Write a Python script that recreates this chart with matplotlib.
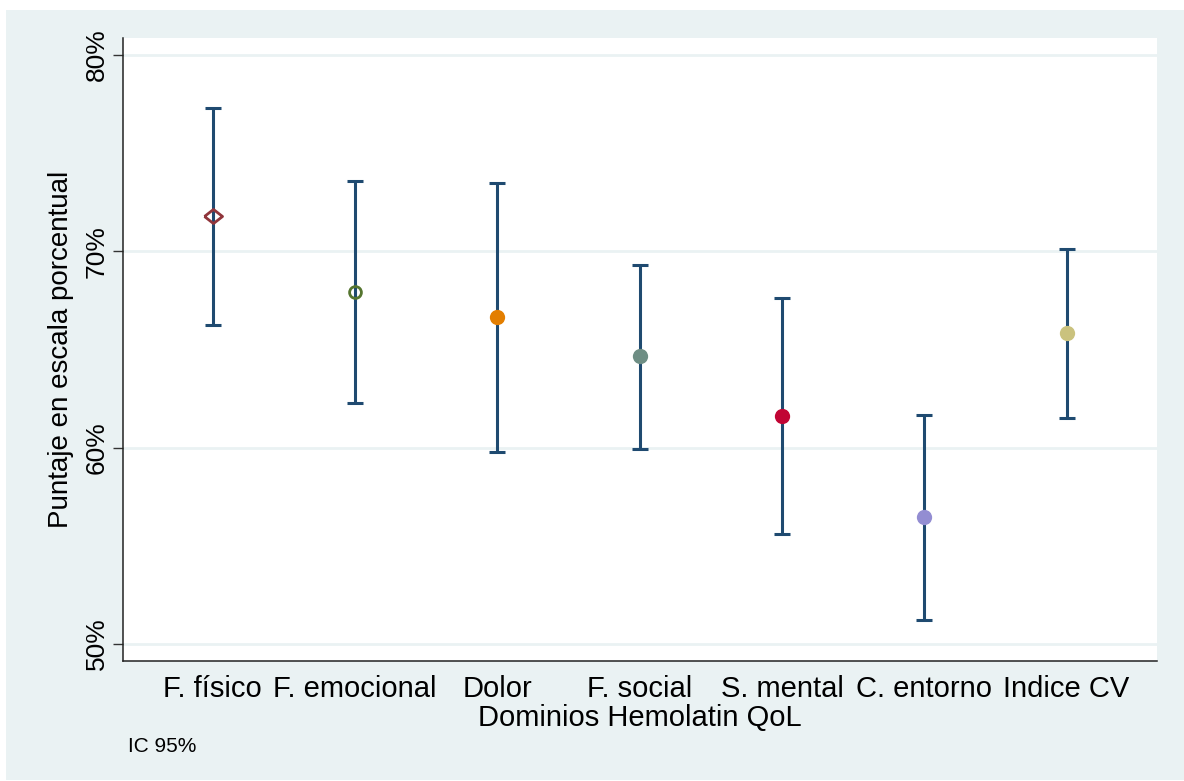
import matplotlib.pyplot as plt
from matplotlib.patches import Rectangle

plt.rcParams['font.family'] = ['Liberation Sans', 'DejaVu Sans']

# dominios del Hemolatin QoL
dominios = ['F. físico', 'F. emocional', 'Dolor', 'F. social',
            'S. mental', 'C. entorno', 'Indice CV']
media = [71.8, 67.95, 66.65, 64.65, 61.6, 56.45, 65.85]
ic_inf = [66.25, 62.25, 59.8, 59.95, 55.6, 51.2, 61.5]
ic_sup = [77.3, 73.6, 73.5, 69.3, 67.6, 61.65, 70.1]

yticks = [50, 60, 70, 80]
ytick_labels = ['50%', '60%', '70%', '80%']

# colores tipo s2color de Stata
navy = '#1f4a70'
marker_colors = ['#90353b', '#55752f', '#e37e00', '#6e8e84',
                 '#c10534', '#938dd2', '#cac27e']
# rombo algo aplanado como en el original
rombo = [(-1, 0), (0, 0.78), (1, 0), (0, -0.78), (-1, 0)]
marker_shapes = [rombo, 'o', 'o', 'o', 'o', 'o', 'o']
hollow = [True, True, False, False, False, False, False]
bg = '#eaf2f3'

fig = plt.figure(figsize=(11.84, 7.81), dpi=100, facecolor='white')
fig.patches.append(Rectangle((6 / 1184, 1 / 781), 1 - 6 / 1184, 770 / 781,
                             transform=fig.transFigure, facecolor=bg,
                             edgecolor='none', zorder=-10))

ax = fig.add_axes([123 / 1184, 1 - 661 / 781, (1157 - 123) / 1184, (661 - 38) / 781])
ax.set_facecolor('white')

x = list(range(1, len(dominios) + 1))
for i in range(len(dominios)):
    ax.errorbar(x[i], media[i],
                yerr=[[media[i] - ic_inf[i]], [ic_sup[i] - media[i]]],
                fmt='none', ecolor=navy, elinewidth=2.2, capsize=5.5,
                capthick=2.2, zorder=2)
    if hollow[i]:
        ms = 13 if i == 0 else 8.5
        ax.plot(x[i], media[i], marker=marker_shapes[i], markersize=ms,
                mfc='none', mec=marker_colors[i], mew=2, zorder=3)
    else:
        ax.plot(x[i], media[i], marker='o', markersize=11,
                mfc=marker_colors[i], mec=marker_colors[i], mew=0, zorder=3)

ax.set_xlim(0.37, 7.635)
ax.set_ylim(49.13, 80.87)

ax.set_yticks(yticks)
ax.set_yticklabels(ytick_labels, rotation=90, va='center', fontsize=19)
ax.set_xticks(x)
ax.set_xticklabels(dominios, fontsize=21)
ax.tick_params(axis='x', length=0, pad=10)
ax.tick_params(axis='y', length=7, width=1, color='#333333', pad=3)
ax.grid(axis='y', color=bg, linewidth=2, zorder=0)
ax.set_axisbelow(True)

for s in ['top', 'right']:
    ax.spines[s].set_visible(False)
for s in ['left', 'bottom']:
    ax.spines[s].set_color('#222222')
    ax.spines[s].set_linewidth(1.1)

ax.set_xlabel('Dominios Hemolatin QoL', fontsize=21, labelpad=1)
ax.set_ylabel('Puntaje en escala porcentual', fontsize=20, labelpad=8)

fig.text(128 / 1184, 1 - 747 / 781, 'IC 95%', fontsize=15, va='center', ha='left')

fig.savefig('out.png', dpi=100, facecolor='white')
